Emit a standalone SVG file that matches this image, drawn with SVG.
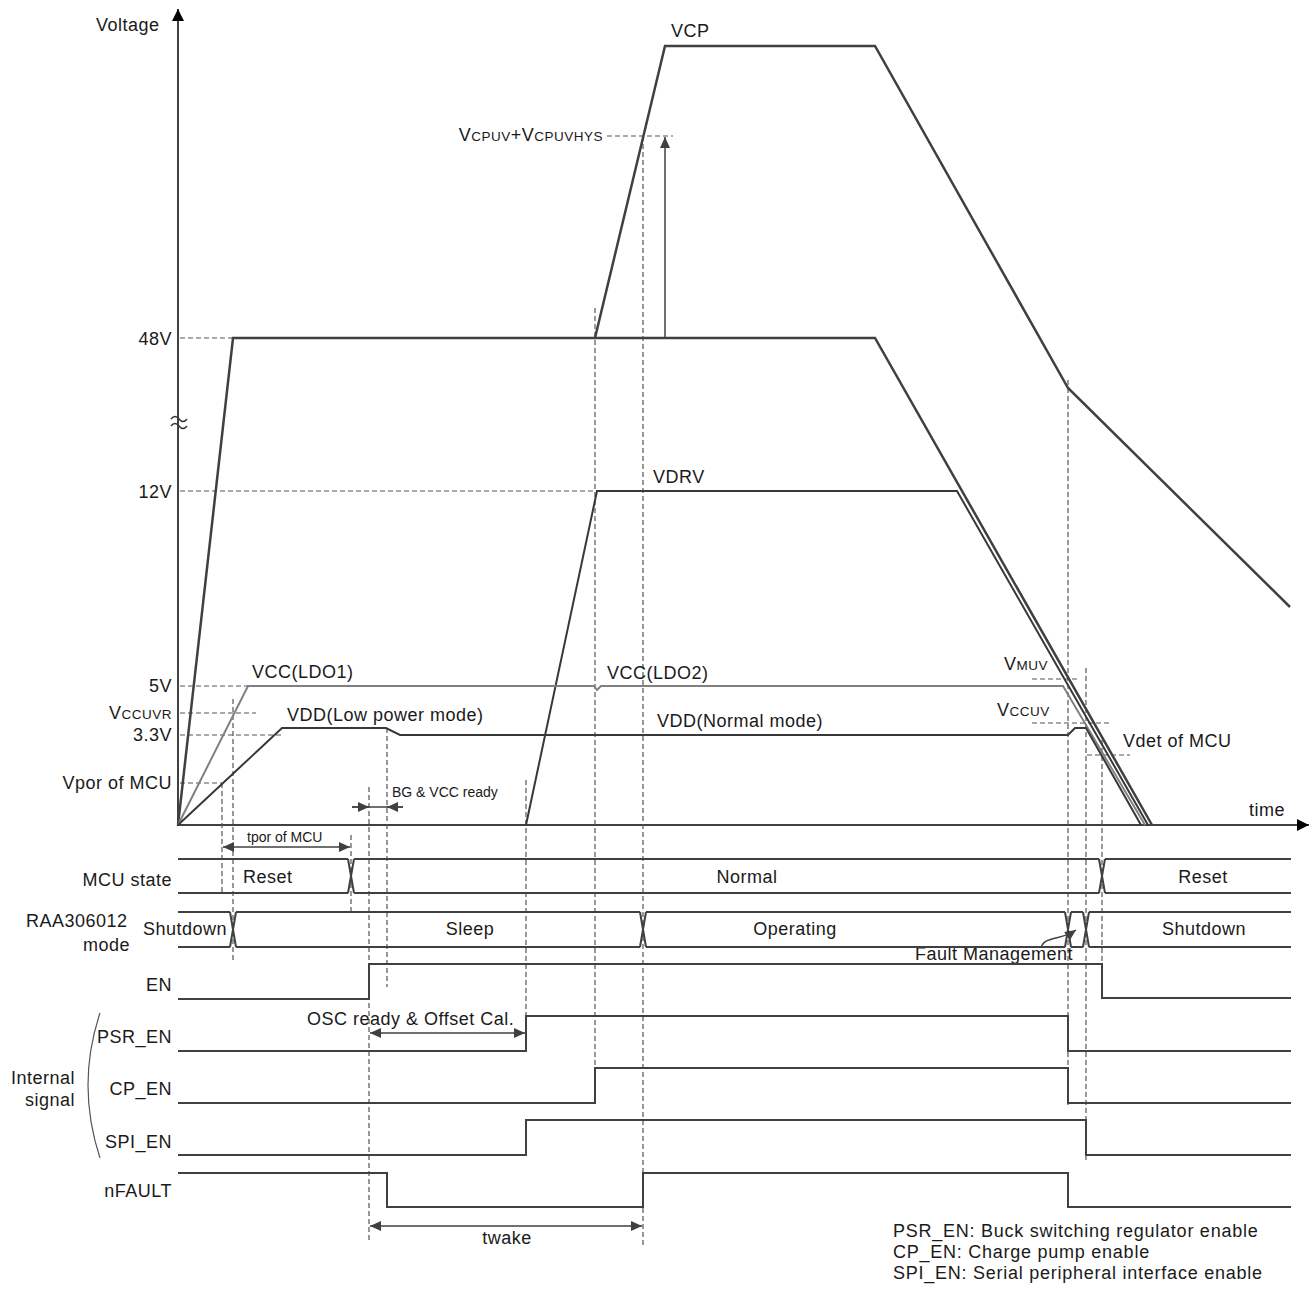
<svg xmlns="http://www.w3.org/2000/svg" width="1314" height="1290" viewBox="0 0 1314 1290">
<style>
text{font-family:"Liberation Sans",Arial,sans-serif;fill:#1a1a1a;}
.l{font-size:18px;letter-spacing:0.5px}
.lg{font-size:18px;letter-spacing:0.75px}
.s{font-size:14px}
.r{text-anchor:end}
.m{text-anchor:middle}
.sb{font-size:13.5px}
.axis{stroke:#000;stroke-width:1.5;fill:none}
.w{stroke:#404040;stroke-width:2.5;fill:none}
.w2{stroke:#383838;stroke-width:2;fill:none}
.g{stroke:#808080;stroke-width:2;fill:none}
.d{stroke:#555;stroke-width:1.2;stroke-dasharray:5,3;fill:none}
.t{stroke:#404040;stroke-width:2;fill:none}
.a{stroke:#404040;stroke-width:1.5;fill:none}
</style>
<defs>
<marker id="ah" markerWidth="12" markerHeight="10" refX="11" refY="5" orient="auto-start-reverse" markerUnits="userSpaceOnUse"><path d="M0,0 L11,5 L0,10 z" fill="#404040"/></marker>
<marker id="ak" markerWidth="14" markerHeight="12" refX="12" refY="6" orient="auto" markerUnits="userSpaceOnUse"><path d="M0,0 L12,6 L0,12 z" fill="#000"/></marker>
</defs>

<g id="axes">
<line class="axis" x1="178" y1="826" x2="178" y2="9" marker-end="url(#ak)"/>
<line class="axis" x1="177" y1="825" x2="1309" y2="825" marker-end="url(#ak)"/>
<path d="M171,419 q4,-5 8,0 t8,0 M171,426 q4,-5 8,0 t8,0" stroke="#333" stroke-width="1.5" fill="none"/>
<text class="l" x="96" y="31">Voltage</text>
<text class="l" x="1249" y="816">time</text>
</g>

<g id="level-labels">
<text class="l r" x="172" y="345">48V</text>
<text class="l r" x="172" y="498">12V</text>
<text class="l r" x="172" y="692">5V</text>
<text class="l r" x="172" y="719">V<tspan class="sb">CCUVR</tspan></text>
<text class="l r" x="172" y="741">3.3V</text>
<text class="l r" x="172" y="789">Vpor of MCU</text>
<text class="l r" x="603" y="141">V<tspan class="sb">CPUV</tspan>+V<tspan class="sb">CPUVHYS</tspan></text>
<text class="l" x="1004" y="670">V<tspan class="sb">MUV</tspan></text>
<text class="l" x="997" y="716">V<tspan class="sb">CCUV</tspan></text>
<text class="l" x="1123" y="747">Vdet of MCU</text>
</g>

<g id="guides">
<path class="d" d="M180,338 H233 M180,491 H597 M180,686 H248 M180,713 H256 M180,735 H282 M180,783 H222 M607,136 H673 M1032,679 H1080 M1032,723 H1110 M1087,755 H1130"/>
<path class="d" d="M222,783 V893 M233,699 V962 M351,835 V912 M369,787 V1242 M387,728 V987 M526,780 V1052 M595,308 V1102 M643,136 V1245 M1068,380 V1105 M1086,668 V1160 M1102,740 V978"/>
</g>

<g id="curves">
<path class="w" d="M178,825 L233,338 L875,338 L1152,825"/>
<path class="w" d="M595,338 L665,46 L875,46 L1068,388 L1290,607"/>
<path class="w2" d="M526,825 L597,491 L957,491 L1148,825"/>
<path class="g" d="M178,825 L248,686 L594,686 L597,690 L601,686 L1063,686 L1145,825"/>
<path class="w2" d="M178,825 L282,728 L386,728 L400,735 L1068,735 L1075,728 L1086,728 L1141,825"/>
<text class="l" x="671" y="37">VCP</text>
<text class="l" x="653" y="483">VDRV</text>
<text class="l" x="252" y="678">VCC(LDO1)</text>
<text class="l" x="287" y="721">VDD(Low power mode)</text>
<text class="l" x="607" y="679">VCC(LDO2)</text>
<text class="l" x="657" y="727">VDD(Normal mode)</text>
</g>

<g id="connectors">
<line class="a" x1="665" y1="338" x2="665" y2="137" marker-end="url(#ah)"/>
<line class="a" x1="223" y1="847" x2="350" y2="847" marker-start="url(#ah)" marker-end="url(#ah)"/>
<line class="a" x1="352" y1="807" x2="403" y2="807"/>
<line class="a" x1="352" y1="807" x2="369" y2="807" marker-end="url(#ah)"/>
<line class="a" x1="403" y1="807" x2="387" y2="807" marker-end="url(#ah)"/>
<line class="a" x1="370" y1="1033" x2="525" y2="1033" marker-start="url(#ah)" marker-end="url(#ah)"/>
<line class="a" x1="370" y1="1226" x2="642" y2="1226" marker-start="url(#ah)" marker-end="url(#ah)"/>
<path class="a" d="M1041,948 C1044,936 1060,941 1076,930" marker-end="url(#ah)" stroke-width="1.2"/>
<text class="s" x="247" y="842">tpor of MCU</text>
<text class="s" x="392" y="797">BG &amp; VCC ready</text>
<text class="l" x="307" y="1025">OSC ready &amp; Offset Cal.</text>
<text class="l m" x="507" y="1244">twake</text>
<text class="l" x="915" y="960">Fault Management</text>
</g>

<g id="mcu-state">
<path class="t" d="M178,859 H348 M354,859 H1099 M1105,859 H1291 M178,893 H348 M354,893 H1099 M1105,893 H1291 M348,859 L354,893 M354,859 L348,893 M1099,859 L1105,893 M1105,859 L1099,893" stroke-width="1.8"/>
<text class="l r" x="172" y="886">MCU state</text>
<text class="l" x="243" y="883">Reset</text>
<text class="l m" x="747" y="883">Normal</text>
<text class="l m" x="1203" y="883">Reset</text>
</g>

<g id="raa-mode">
<path class="t" d="M178,912 H230 M236,912 H640 M646,912 H1065 M1071,912 H1083 M1089,912 H1291 M178,947 H230 M236,947 H640 M646,947 H1065 M1071,947 H1083 M1089,947 H1291 M230,912 L236,947 M236,912 L230,947 M640,912 L646,947 M646,912 L640,947 M1065,912 L1071,947 M1071,912 L1065,947 M1083,912 L1089,947 M1089,912 L1083,947" stroke-width="1.8"/>
<text class="l" x="26" y="927">RAA306012</text>
<text class="l r" x="130" y="951">mode</text>
<text class="l" x="143" y="935">Shutdown</text>
<text class="l m" x="470" y="935">Sleep</text>
<text class="l m" x="795" y="935">Operating</text>
<text class="l m" x="1204" y="935">Shutdown</text>
</g>

<g id="en">
<path class="t" d="M178,999 H369 V964 H1102 V998 H1291"/>
<text class="l r" x="172" y="991">EN</text>
</g>
<g id="psr-en">
<path class="t" d="M178,1051 H526 V1016 H1068 V1051 H1291"/>
<text class="l r" x="172" y="1043">PSR_EN</text>
</g>
<g id="cp-en">
<path class="t" d="M178,1103 H595 V1068 H1068 V1103 H1291"/>
<text class="l r" x="172" y="1095">CP_EN</text>
</g>
<g id="spi-en">
<path class="t" d="M178,1155 H526 V1120 H1086 V1155 H1291"/>
<text class="l r" x="172" y="1148">SPI_EN</text>
</g>
<g id="nfault">
<path class="t" d="M178,1173 H387 V1207 H643 V1173 H1068 V1207 H1291"/>
<text class="l r" x="172" y="1197">nFAULT</text>
</g>

<g id="internal-signal">
<path d="M100,1013 Q76,1085 100,1158" stroke="#555" stroke-width="1.2" fill="none"/>
<text class="l r" x="75" y="1084">Internal</text>
<text class="l r" x="75" y="1106">signal</text>
</g>

<g id="legend">
<text class="lg" x="893" y="1237">PSR_EN: Buck switching regulator enable</text>
<text class="lg" x="893" y="1258">CP_EN: Charge pump enable</text>
<text class="lg" x="893" y="1279">SPI_EN: Serial peripheral interface enable</text>
</g>
</svg>
